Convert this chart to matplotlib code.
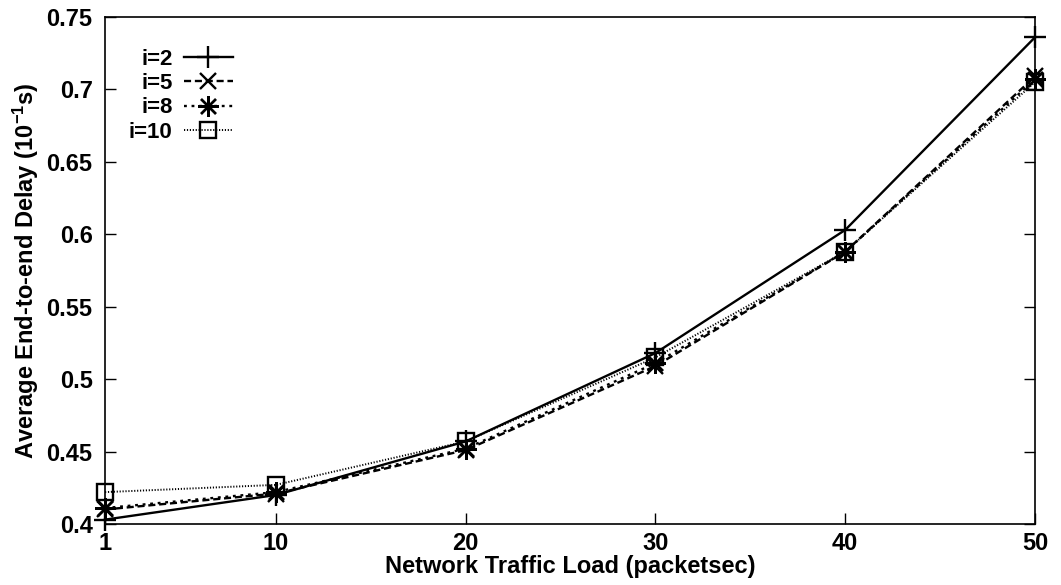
import matplotlib
matplotlib.use("Agg")
import matplotlib.pyplot as plt
from matplotlib.ticker import FuncFormatter

plt.rcParams['font.family'] = ['Liberation Sans', 'DejaVu Sans']
plt.rcParams['font.weight'] = 'bold'
plt.rcParams['mathtext.fontset'] = 'custom'
plt.rcParams['mathtext.rm'] = 'Liberation Sans:bold'
plt.rcParams['mathtext.it'] = 'Liberation Sans:bold'
plt.rcParams['mathtext.bf'] = 'Liberation Sans:bold'

# traffic load (packets/sec)
load = [1, 10, 20, 30, 40, 50]

# average end-to-end delay (10^-1 s) for each i
delay_i2 = [0.403, 0.420, 0.457, 0.518, 0.603, 0.736]
delay_i5 = [0.410, 0.421, 0.451, 0.509, 0.588, 0.709]
delay_i8 = [0.411, 0.422, 0.452, 0.511, 0.588, 0.707]
delay_i10 = [0.422, 0.427, 0.457, 0.515, 0.588, 0.705]

labels = ['i=2', 'i=5', 'i=8', 'i=10']
x_ticks = [1, 10, 20, 30, 40, 50]
y_ticks = [0.4, 0.45, 0.5, 0.55, 0.6, 0.65, 0.7, 0.75]

fig = plt.figure(figsize=(10.61, 5.85), dpi=100)
ax = fig.add_axes([0.099, 0.1043, 0.8765, 0.8666])

fs = 17
lw = 1.7
ms = 13
common = dict(color='black', clip_on=False, zorder=3)
ax.plot(load, delay_i2, lw=lw, ls='-', marker='+',
        ms=ms + 3, mew=1.7, label=labels[0], **common)
ax.plot(load, delay_i5, lw=lw, ls=(0, (3.0, 1.6)), marker='x',
        ms=ms - 1, mew=1.7, label=labels[1], **common)
ax.plot(load, delay_i8, lw=lw, ls=(0, (1.2, 2.0)), marker=(8, 2, 0),
        ms=ms + 2, mew=1.7, label=labels[2], **common)
ax.plot(load, delay_i10, lw=1.4, ls=(0, (0.6, 0.9)), marker='s',
        ms=ms - 1, mew=1.7, mfc='none', label=labels[3], **common)

ax.set_xlim(1, 50)
ax.set_ylim(0.4, 0.75)
ax.set_xticks(x_ticks)
ax.set_yticks(y_ticks)
ax.yaxis.set_major_formatter(FuncFormatter(lambda v, p: '%g' % v))
ax.tick_params(direction='in', length=8, width=1.0, labelsize=fs,
               right=True, top=False)
ax.tick_params(axis='y', pad=9)
ax.tick_params(axis='x', pad=6)
for s in ax.spines.values():
    s.set_linewidth(1.2)

ax.set_xlabel('Network Traffic Load (packetsec)', fontsize=fs, fontweight='bold',
              labelpad=0)
ax.set_ylabel(r'Average End-to-end Delay (10$^{-1}$s)', fontsize=fs,
              fontweight='bold', labelpad=4)

leg = ax.legend(loc='upper left', bbox_to_anchor=(0.016, 0.955), frameon=False,
                markerfirst=False, fontsize=16, handlelength=2.2,
                labelspacing=0.15, handletextpad=0.5, borderaxespad=0)
for t in leg.get_texts():
    t.set_fontweight('bold')

fig.savefig('out.png', dpi=100)
